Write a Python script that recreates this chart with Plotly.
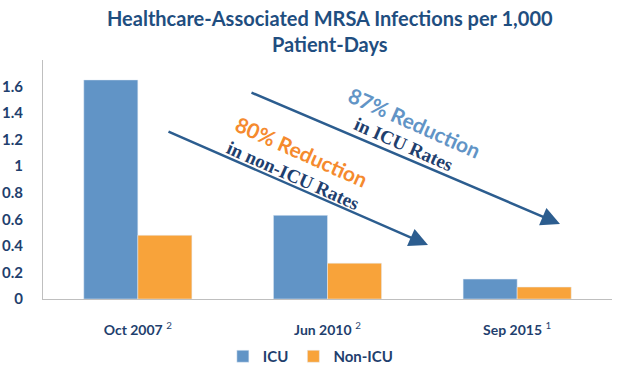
import plotly.graph_objects as go

categories = ["Oct 2007", "Jun 2010", "Sep 2015"]
footnotes = ["2", "2", "1"]
icu = [1.65, 0.63, 0.15]
non_icu = [0.48, 0.27, 0.09]
y_ticks = [0, 0.2, 0.4, 0.6, 0.8, 1, 1.2, 1.4, 1.6]

DARK = "#1F3F6E"
BLUE = "#6194C6"
ORANGE = "#F8A33A"
ARROW = "#2C5D8F"
FONT = "Lato"

tick_text = [f"<b>{c}</b> <sup>{f}</sup>" for c, f in zip(categories, footnotes)]

fig = go.Figure()
fig.add_bar(x=categories, y=icu, name="ICU", marker_color=BLUE)
fig.add_bar(x=categories, y=non_icu, name="Non-ICU", marker_color=ORANGE)

fig.update_layout(
    width=628, height=370,
    margin=dict(l=43, r=16, t=60, b=71),
    paper_bgcolor="white", plot_bgcolor="white",
    barmode="group", bargap=0.43, bargroupgap=0,
    font=dict(family=FONT, color=DARK),
    showlegend=True,
    legend=dict(
        orientation="h", x=0.495, xanchor="center",
        y=(370 - 340) / 370, yanchor="top", yref="container", xref="container",
        font=dict(size=15, color=DARK, family=FONT, weight=700),
        traceorder="normal",
    ),
)

fig.update_xaxes(
    tickmode="array", tickvals=categories, ticktext=tick_text,
    tickfont=dict(size=14, color=DARK, family=FONT),
    showline=True, linecolor="#BFBFBF", linewidth=1,
    ticks="", ticklabelstandoff=18, showgrid=False, automargin=False,
)
fig.update_yaxes(
    range=[0, 1.8], tickmode="array", tickvals=y_ticks,
    ticktext=[f"{v:g}" for v in y_ticks],
    tickfont=dict(size=15, color=DARK, family=FONT, weight=700),
    showline=True, linecolor="#BFBFBF", linewidth=1,
    ticks="", ticklabelstandoff=16, showgrid=False, zeroline=False,
    automargin=False,
)

# Pixel positions mapped to axis-domain coords
W0, H0 = 628 - 43 - 16, 370 - 60 - 71
def px(x): return (x - 43) / W0
def py(y): return (370 - 71 - y) / H0

# Title
fig.add_annotation(
    x=px(330), y=py(4), xref="x domain", yref="y domain",
    text="<b>Healthcare-Associated MRSA Infections per 1,000<br>Patient-Days</b>",
    showarrow=False, xanchor="center", yanchor="top",
    font=dict(size=20, color="#1F4E80", family=FONT),
)

arrows = [((250, 92), (560, 224)), ((167, 131), (428, 245))]
for (sx, sy), (ex, ey) in arrows:
    fig.add_annotation(
        x=px(ex), y=py(ey), xref="x domain", yref="y domain",
        ax=px(sx), ay=py(sy), axref="x domain", ayref="y domain",
        showarrow=True, arrowhead=2, arrowsize=1.5, arrowwidth=2.5,
        arrowcolor=ARROW, text="",
    )

labels = [
    ("<b>87% Reduction</b>", 415, 122, 21, BLUE, FONT),
    ("<b>in ICU Rates</b>", 404, 144, 19, "#1F3F6E", "Liberation Serif"),
    ("<b>80% Reduction</b>", 302, 151, 21, "#F58A2E", FONT),
    ("<b>in non-ICU Rates</b>", 293, 175, 19, "#1F3F6E", "Liberation Serif"),
]
for text, x, y, size, color, fam in labels:
    fig.add_annotation(
        x=px(x), y=py(y), xref="x domain", yref="y domain", text=text,
        showarrow=False, textangle=24, xanchor="center", yanchor="middle",
        font=dict(size=size, color=color, family=fam),
    )

fig.write_html(
    "out.html",
    config={"displayModeBar": False},
    post_script="document.body.style.margin='0';document.body.style.overflow='hidden';",
)
